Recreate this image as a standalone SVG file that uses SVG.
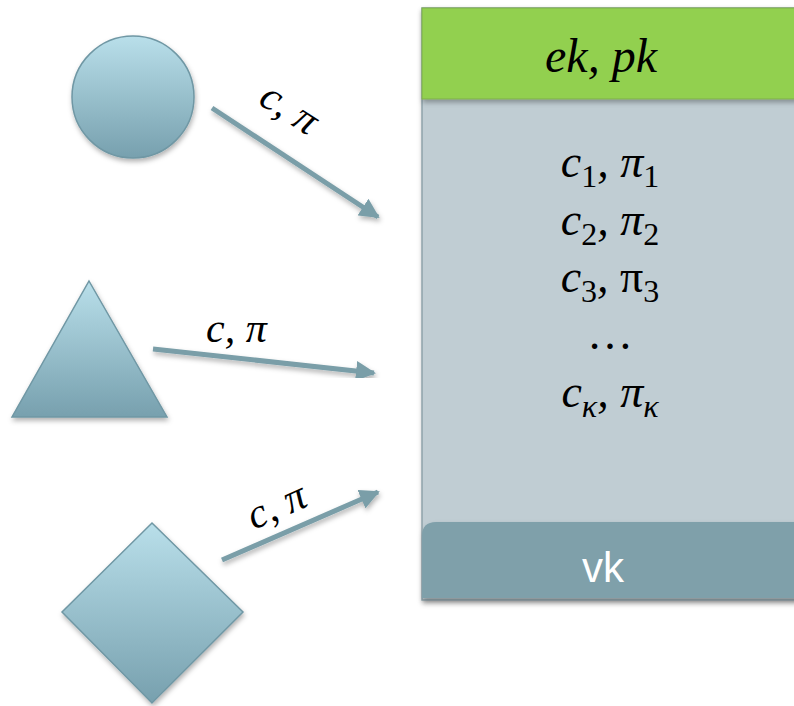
<svg xmlns="http://www.w3.org/2000/svg" width="794" height="706" viewBox="0 0 794 706">
<defs>
<linearGradient id="g" x1="0" y1="0" x2="0" y2="1">
<stop offset="0" stop-color="#B9DFEA"/>
<stop offset="1" stop-color="#77A0AE"/>
</linearGradient>
<filter id="sh" x="-20%" y="-20%" width="140%" height="140%">
<feDropShadow dx="1" dy="3" stdDeviation="2.5" flood-color="#000" flood-opacity="0.3"/>
</filter>
<marker id="ah" viewBox="0 0 10 10" refX="9" refY="5" markerWidth="4" markerHeight="4" orient="auto" markerUnits="strokeWidth">
<path d="M0,0 L10,5 L0,10 z" fill="#7A9EA8"/>
</marker>
<style>
.shape{fill:url(#g);stroke:#6F97A4;stroke-width:1.5;filter:url(#sh)}
.conn{stroke:#7A9EA8;stroke-width:5;fill:none;marker-end:url(#ah);filter:url(#sh)}
.lbl{font-family:"Liberation Serif",serif;font-style:italic;font-size:42px;fill:#000}
.math{font-family:"Liberation Serif",serif;font-style:italic;font-size:46px;fill:#000;text-anchor:middle}
.sub{font-style:normal;font-size:32px}
</style>
</defs>
<g id="box">
<rect x="422" y="8" width="380" height="592" fill="#C0CDD3" stroke="#8FA3AB" stroke-width="1.5" filter="url(#sh)"/>
<rect x="422" y="8" width="380" height="91" fill="#92D050" stroke="#7FAE4A" stroke-width="1" filter="url(#sh)"/>
<text class="math" x="601" y="72" style="font-size:48px">ek, pk</text>
<text class="math" x="610" y="177">c<tspan class="sub" dy="10">1</tspan><tspan dy="-10">, π</tspan><tspan class="sub" dy="10">1</tspan></text>
<text class="math" x="610" y="235">c<tspan class="sub" dy="10">2</tspan><tspan dy="-10">, π</tspan><tspan class="sub" dy="10">2</tspan></text>
<text class="math" x="610" y="292">c<tspan class="sub" dy="10">3</tspan><tspan dy="-10">, </tspan><tspan style="font-style:normal">π</tspan><tspan class="sub" dy="10">3</tspan></text>
<text class="math" x="610" y="349" style="font-style:normal">…</text>
<text class="math" x="610" y="407">c<tspan class="sub" dy="10" style="font-style:italic">κ</tspan><tspan dy="-10">, π</tspan><tspan class="sub" dy="10" style="font-style:italic">κ</tspan></text>
</g>
<g id="vk">
<path d="M422,598 V536 Q422,522 436,522 H802 V598 Z" fill="#7FA0AA" filter="url(#sh)"/>
<text x="603" y="582" font-family="'Liberation Sans',Arial,sans-serif" font-size="42" fill="#fff" text-anchor="middle">vk</text>
</g>
<g id="circle">
<circle class="shape" cx="133" cy="97" r="61"/>
</g>
<g id="triangle">
<polygon class="shape" points="89,281 167,417 12,417"/>
</g>
<g id="diamond">
<polygon class="shape" points="152,523 243,612 152,703 62,612"/>
</g>
<g id="connectors">
<line class="conn" x1="212" y1="108" x2="378" y2="217"/>
<line class="conn" x1="153" y1="349" x2="374" y2="373"/>
<line class="conn" x1="222" y1="560" x2="378" y2="492"/>
<text class="lbl" transform="translate(257,103) rotate(33)">c, π</text>
<text class="lbl" x="206" y="342">c, π</text>
<text class="lbl" transform="translate(254,530) rotate(-24)">c, π</text>
</g>
</svg>
